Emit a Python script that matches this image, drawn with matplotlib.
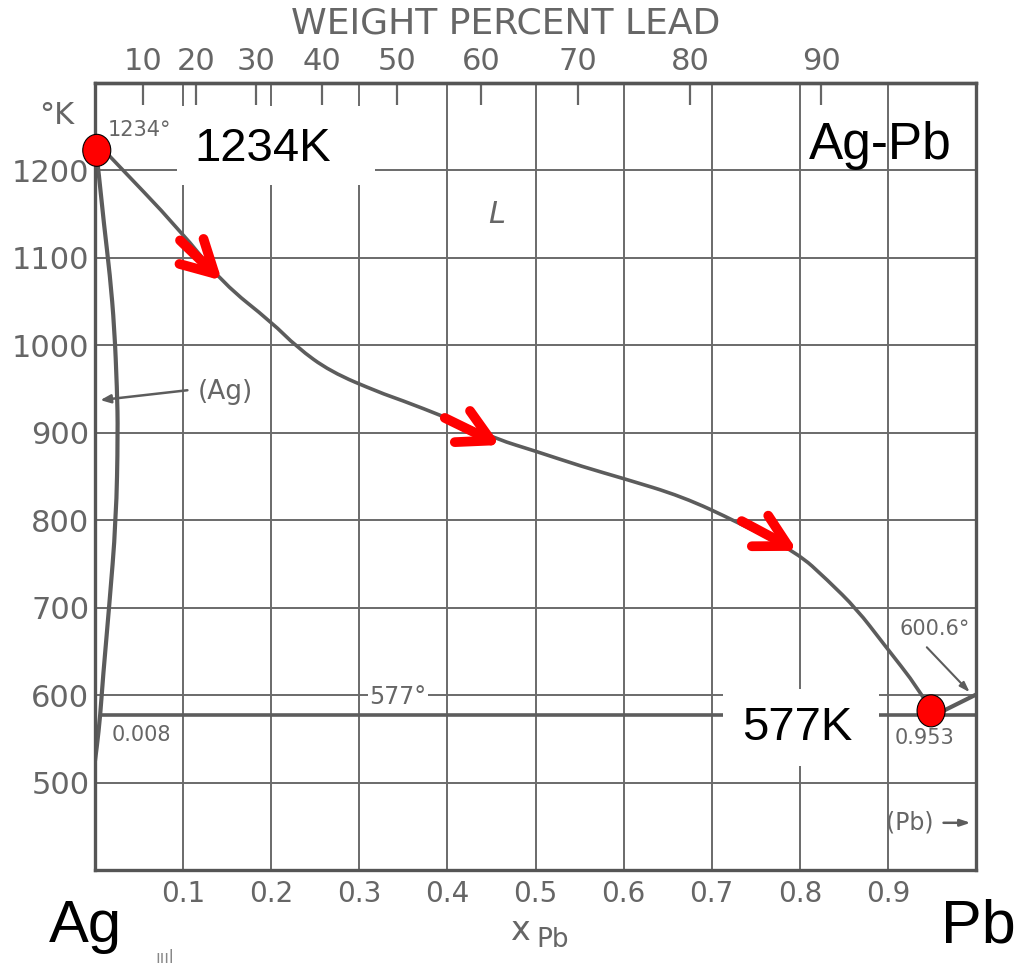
import numpy as np
import matplotlib
matplotlib.use('Agg')
import matplotlib.pyplot as plt
from matplotlib.patches import Rectangle, Ellipse, FancyArrowPatch, PathPatch
from matplotlib.path import Path

# ---------------- data ----------------
liq_x = [0.0, 0.015, 0.0965, 0.145, 0.201, 0.229, 0.267, 0.323, 0.346, 0.400,
         0.458, 0.497, 0.554, 0.599, 0.667, 0.729, 0.797, 0.831, 0.865, 0.894,
         0.936, 0.953]
liq_T = [1234, 1218, 1132, 1071, 1026, 998, 970, 946, 938, 917,
         892, 880, 861, 848, 827, 798, 763, 732, 698, 660,
         606, 577]
sol_x = [0.0, 0.005, 0.010, 0.017, 0.022, 0.025, 0.026, 0.024, 0.016, 0.009, 0.006, 0.002, 0.0]
sol_T = [1234, 1190, 1140, 1080, 1020, 950, 900, 800, 700, 620, 577, 540, 525]
pb_x = [0.953, 1.0]
pb_T = [577, 600.6]
eut_x = [0.008, 1.0]
eut_T = [577, 577]

x_ticks = [0.1, 0.2, 0.3, 0.4, 0.5, 0.6, 0.7, 0.8, 0.9]
x_ticklabels = ['0.1', '0.2', '0.3', '0.4', '0.5', '0.6', '0.7', '0.8', '0.9']
T_ticks = [500, 600, 700, 800, 900, 1000, 1100, 1200]
wt_ticks = [10, 20, 30, 40, 50, 60, 70, 80, 90]

dot_x = [0.002, 0.949]
dot_T = [1223, 582]

arrow_tail_x = [0.0965, 0.397, 0.734]
arrow_tail_T = [1120, 917, 799]
arrow_head_x = [0.144, 0.460, 0.797]
arrow_head_T = [1074, 886, 765]

M_PB, M_AG = 207.2, 107.87

def x_to_wt(x):
    x = np.clip(np.asarray(x, dtype=float), 0.0, 1.0)
    return 100 * x * M_PB / (x * M_PB + (1 - x) * M_AG)

def wt_to_x(w):
    w = np.clip(np.asarray(w, dtype=float), 0.0, 100.0)
    a = w / M_PB
    b = (100 - w) / M_AG
    return a / (a + b)

def smooth_path(xs, ys):
    """Quadratic-Bezier rendering through midpoints (drawing only)."""
    pts = list(zip(xs, ys))
    verts = [pts[0]]
    codes = [Path.MOVETO]
    for i in range(1, len(pts) - 1):
        mid = ((pts[i][0] + pts[i + 1][0]) / 2, (pts[i][1] + pts[i + 1][1]) / 2)
        if i == len(pts) - 2:
            mid = pts[-1]
        verts += [pts[i], mid]
        codes += [Path.CURVE3, Path.CURVE3]
    return Path(verts, codes)

# ---------------- figure ----------------
GREY = '#5c5c5c'
TGREY = '#666666'
fig = plt.figure(figsize=(10.19, 9.67), dpi=100)
ax = fig.add_axes([95 / 1019, 97 / 967, 881 / 1019, 787 / 967])
ax.set_xlim(0, 1)
ax.set_ylim(400, 1300)

# grid
ax.vlines(x_ticks, 400, 1300, colors='#6a6a6a', lw=1.4, zorder=1)
ax.hlines(T_ticks, 0, 1, colors='#6a6a6a', lw=1.4, zorder=1)

for s in ax.spines.values():
    s.set_color('#555555')
    s.set_linewidth(2.4)

ax.set_xticks(x_ticks)
ax.set_xticklabels(x_ticklabels)
ax.set_yticks(T_ticks)
ax.set_yticklabels([str(t) for t in T_ticks])
ax.tick_params(axis='x', length=0, pad=7, labelsize=20, labelcolor=TGREY)
ax.tick_params(axis='y', length=0, pad=4, labelsize=22, labelcolor=TGREY)

# top weight-percent axis
sec = ax.secondary_xaxis('top', functions=(x_to_wt, wt_to_x))
sec.set_xticks(wt_ticks)
sec.set_xticklabels([str(w) for w in wt_ticks])
sec.tick_params(direction='in', length=16, width=1.6, color='#666666',
                labelsize=22, labelcolor=TGREY, pad=5)
sec.spines['top'].set_color('#555555')
sec.spines['top'].set_linewidth(2.4)
fig.text(506 / 1019, 1 - 24 / 967, 'WEIGHT PERCENT LEAD', ha='center', va='center',
         fontsize=26, color=TGREY)
fig.text(57 / 1019, 1 - 115 / 967, '°K', ha='center', va='center', fontsize=22, color=TGREY)

# curves
ax.add_patch(PathPatch(smooth_path(liq_x, liq_T), facecolor='none', edgecolor=GREY,
                       lw=2.6, zorder=2, capstyle='round'))
ax.add_patch(PathPatch(smooth_path(sol_x, sol_T), facecolor='none', edgecolor=GREY,
                       lw=3.0, zorder=2, capstyle='round'))
ax.plot(pb_x, pb_T, color=GREY, lw=3.0, zorder=2)
ax.plot(eut_x, eut_T, color=GREY, lw=2.6, zorder=2)

# white boxes covering the scan
ax.add_patch(Rectangle((0.093, 1183), 0.225, 91, facecolor='white', edgecolor='none', zorder=3))
ax.add_patch(Rectangle((0.713, 519), 0.177, 88, facecolor='white', edgecolor='none', zorder=3))

# scan annotations
ax.text(0.051, 1246, '1234°', fontsize=15, color=TGREY, ha='center', va='center', zorder=4)
ax.text(0.456, 1150, 'L', fontsize=22, color=TGREY, style='italic', ha='center', va='center', zorder=4)
ax.text(0.148, 947, '(Ag)', fontsize=19, color=TGREY, ha='center', va='center', zorder=4)
ax.annotate('', xy=(0.003, 937), xytext=(0.108, 949),
            arrowprops=dict(arrowstyle='-|>,head_length=0.6,head_width=0.25', color=GREY, lw=1.8),
            zorder=4)
ax.text(0.053, 554, '0.008', fontsize=15, color=TGREY, ha='center', va='center', zorder=4)
ax.text(0.942, 551, '0.953', fontsize=15, color=TGREY, ha='center', va='center', zorder=4)
ax.text(0.344, 598, '577°', fontsize=17, color=TGREY, ha='center', va='center', zorder=4,
        bbox=dict(facecolor='white', edgecolor='none', pad=1))
ax.text(0.953, 676, '600.6°', fontsize=15, color=TGREY, ha='center', va='center', zorder=4)
ax.annotate('', xy=(0.995, 601), xytext=(0.942, 657),
            arrowprops=dict(arrowstyle='-|>,head_length=0.6,head_width=0.2', color=GREY, lw=1.5),
            zorder=4)
ax.text(0.925, 454, '(Pb)', fontsize=17, color=TGREY, ha='center', va='center', zorder=4)
ax.annotate('', xy=(0.997, 454), xytext=(0.960, 454),
            arrowprops=dict(arrowstyle='-|>,head_length=0.6,head_width=0.2', color=GREY, lw=1.8),
            zorder=4)

# red markers
for cx, cy in zip(dot_x, dot_T):
    ax.add_patch(Ellipse((cx, cy), 0.0318, 36.6, facecolor='red', edgecolor='black',
                         lw=0.8, zorder=6, clip_on=False))

# red arrows
for x0, y0, x1, y1 in zip(arrow_tail_x, arrow_tail_T, arrow_head_x, arrow_head_T):
    ax.add_patch(FancyArrowPatch((x0, y0), (x1, y1),
                                 arrowstyle='->,head_length=2.3,head_width=1.25',
                                 mutation_scale=10, color='red', lw=7,
                                 capstyle='round', joinstyle='round',
                                 shrinkA=0, shrinkB=0, zorder=5))

# big black labels
ax.text(0.19, 1225, '1234K', fontsize=34, color='black', ha='center', va='center', zorder=5,
        family='Liberation Sans')
ax.text(0.797, 562, '577K', fontsize=34, color='black', ha='center', va='center', zorder=5,
        family='Liberation Sans')
ax.text(0.891, 1228, 'Ag-Pb', fontsize=37, color='black', ha='center', va='center', zorder=5,
        family='Liberation Sans')
fig.text(85 / 1019, 1 - 927 / 967, 'Ag', fontsize=43, color='black', ha='center', va='center',
         family='Liberation Sans')
fig.text(978 / 1019, 1 - 927 / 967, 'Pb', fontsize=44, color='black', ha='center', va='center',
         family='Liberation Sans')

# axis label x_Pb
fig.text(520 / 1019, 1 - 930 / 967, 'x', fontsize=24, color=TGREY, ha='center', va='center')
fig.text(553 / 1019, 1 - 940 / 967, 'Pb', fontsize=19, color=TGREY, ha='center', va='center')
fig.text(165 / 1019, 1 - 958 / 967, 'ıııl', fontsize=12, color='#888888', ha='center', va='center')

fig.savefig('out.png', dpi=100, facecolor='white')
